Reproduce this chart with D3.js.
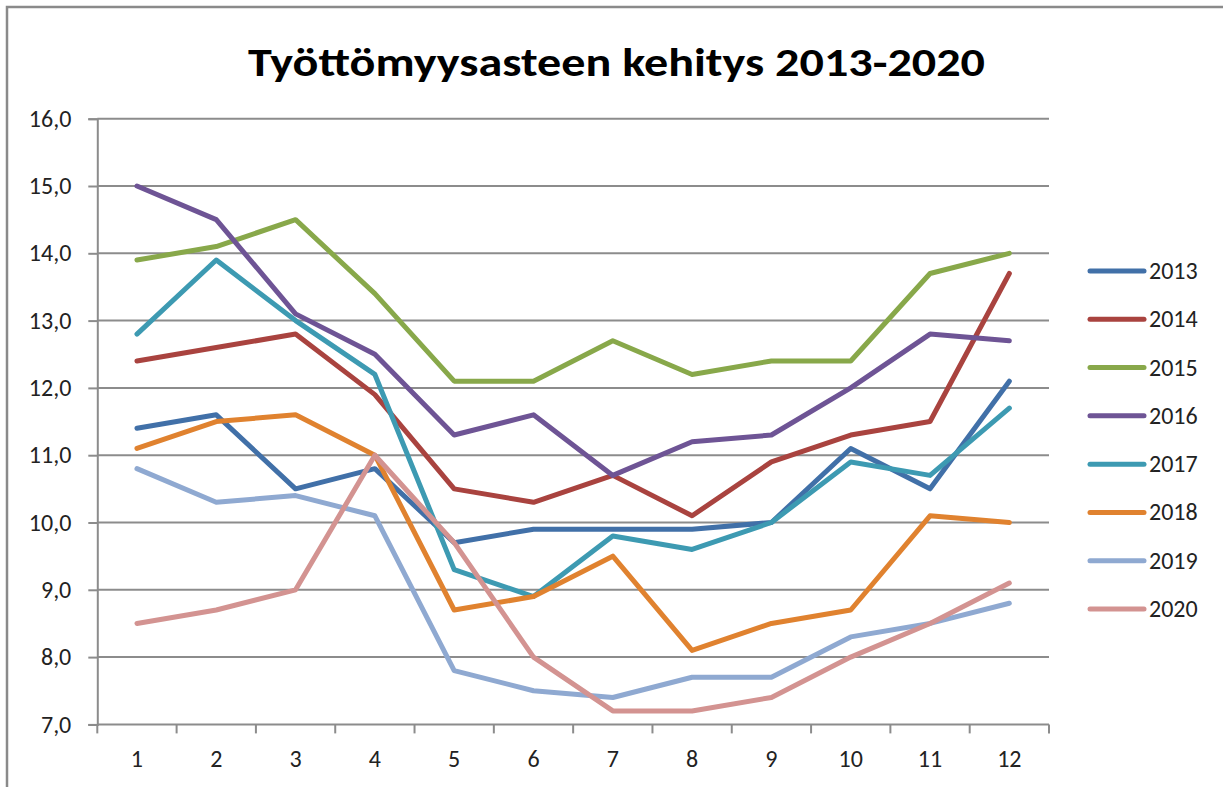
<!DOCTYPE html>
<html>
<head>
<meta charset="utf-8">
<script src="https://cdnjs.cloudflare.com/ajax/libs/d3/7.8.5/d3.min.js"></script>
<style>
html,body{margin:0;padding:0;background:#fff;}
svg{display:block;}
</style>
</head>
<body>
<svg id="chart" width="1223" height="787"></svg>
<script>
const title = "Työttömyysasteen kehitys 2013-2020";
const months = ["1","2","3","4","5","6","7","8","9","10","11","12"];
const yTicks = [7,8,9,10,11,12,13,14,15,16];
const years = ["2013","2014","2015","2016","2017","2018","2019","2020"];
const colors = ["#4170A8","#A9433F","#88A84A","#6E5495","#3D9AB2","#E0822F","#8FA9D1","#D39391"];
const s2013 = [11.4,11.6,10.5,10.8,9.7,9.9,9.9,9.9,10.0,11.1,10.5,12.1];
const s2014 = [12.4,12.6,12.8,11.9,10.5,10.3,10.7,10.1,10.9,11.3,11.5,13.7];
const s2015 = [13.9,14.1,14.5,13.4,12.1,12.1,12.7,12.2,12.4,12.4,13.7,14.0];
const s2016 = [15.0,14.5,13.1,12.5,11.3,11.6,10.7,11.2,11.3,12.0,12.8,12.7];
const s2017 = [12.8,13.9,13.0,12.2,9.3,8.9,9.8,9.6,10.0,10.9,10.7,11.7];
const s2018 = [11.1,11.5,11.6,11.0,8.7,8.9,9.5,8.1,8.5,8.7,10.1,10.0];
const s2019 = [10.8,10.3,10.4,10.1,7.8,7.5,7.4,7.7,7.7,8.3,8.5,8.8];
const s2020 = [8.5,8.7,9.0,11.0,9.7,8.0,7.2,7.2,7.4,8.0,8.5,9.1];
const seriesValues = [s2013,s2014,s2015,s2016,s2017,s2018,s2019,s2020];

(function(){
const svg = d3.select("#chart");
const font = "Calibri, Carlito, 'Open Sans', 'DejaVu Sans', sans-serif";

// chart frame (cropped on right/bottom)
svg.append("rect").attr("x",7).attr("y",7).attr("width",1240).attr("height",820)
  .attr("fill","none").attr("stroke","#8a8a8a").attr("stroke-width",2.5);

const pL = 97.3, pR = 1049, pT = 118.7, pB = 724.4;
const x = d3.scaleBand().domain(months).range([pL,pR]).padding(0);
const y = d3.scaleLinear().domain([7,16]).range([pB,pT]);

// gridlines
svg.append("g").selectAll("line").data(yTicks.slice(1)).join("line")
  .attr("x1",pL).attr("x2",pR)
  .attr("y1",d=>y(d)).attr("y2",d=>y(d))
  .attr("stroke","#8c8c8c").attr("stroke-width",2);

// y axis
const yAxis = svg.append("g").attr("transform",`translate(${pL},0)`)
  .call(d3.axisLeft(y).tickValues(yTicks).tickSize(9).tickPadding(17)
    .tickFormat(d=>d3.format(".1f")(d).replace(".",",")));
yAxis.select(".domain").attr("stroke","#8c8c8c").attr("stroke-width",2);
yAxis.selectAll(".tick line").attr("stroke","#8c8c8c").attr("stroke-width",2);
yAxis.selectAll("text").attr("font-family",font).attr("font-size",24).attr("fill","#222");

// x axis with ticks between categories
const xAxisG = svg.append("g").attr("transform",`translate(0,${pB})`);
xAxisG.append("line").attr("x1",pL).attr("x2",pR).attr("y1",0).attr("y2",0)
  .attr("stroke","#8c8c8c").attr("stroke-width",2);
const bounds = months.map(m=>x(m)).concat([pR]);
xAxisG.selectAll("line.t").data(bounds).join("line").attr("class","t")
  .attr("x1",d=>d).attr("x2",d=>d).attr("y1",0).attr("y2",9)
  .attr("stroke","#8c8c8c").attr("stroke-width",2);
xAxisG.selectAll("text").data(months).join("text")
  .attr("x",d=>x(d)+x.bandwidth()/2).attr("y",42.5)
  .attr("text-anchor","middle").attr("font-family",font).attr("font-size",24).attr("fill","#222")
  .text(d=>d);

// lines
const line = d3.line().x((d,i)=>x(months[i])+x.bandwidth()/2).y(d=>y(d));
svg.append("g").selectAll("path").data(seriesValues).join("path")
  .attr("d",d=>line(d)).attr("fill","none")
  .attr("stroke",(d,i)=>colors[i]).attr("stroke-width",5)
  .attr("stroke-linejoin","round").attr("stroke-linecap","round");

// legend
const lg = svg.append("g");
const ly = d3.scalePoint().domain(years).range([271,609]);
years.forEach((yr,i)=>{
  lg.append("line").attr("x1",1090).attr("x2",1144).attr("y1",ly(yr)).attr("y2",ly(yr))
    .attr("stroke",colors[i]).attr("stroke-width",5).attr("stroke-linecap","round");
  lg.append("text").attr("x",1149).attr("y",ly(yr)+8).attr("font-family",font)
    .attr("font-size",24).attr("fill","#222").text(yr);
});

// title
svg.append("text").attr("x",248).attr("y",76).attr("font-family",font)
  .attr("font-weight","bold").attr("font-size",40).attr("fill","#000")
  .attr("textLength",737).attr("lengthAdjust","spacingAndGlyphs").text(title);
})();
</script>
</body>
</html>
